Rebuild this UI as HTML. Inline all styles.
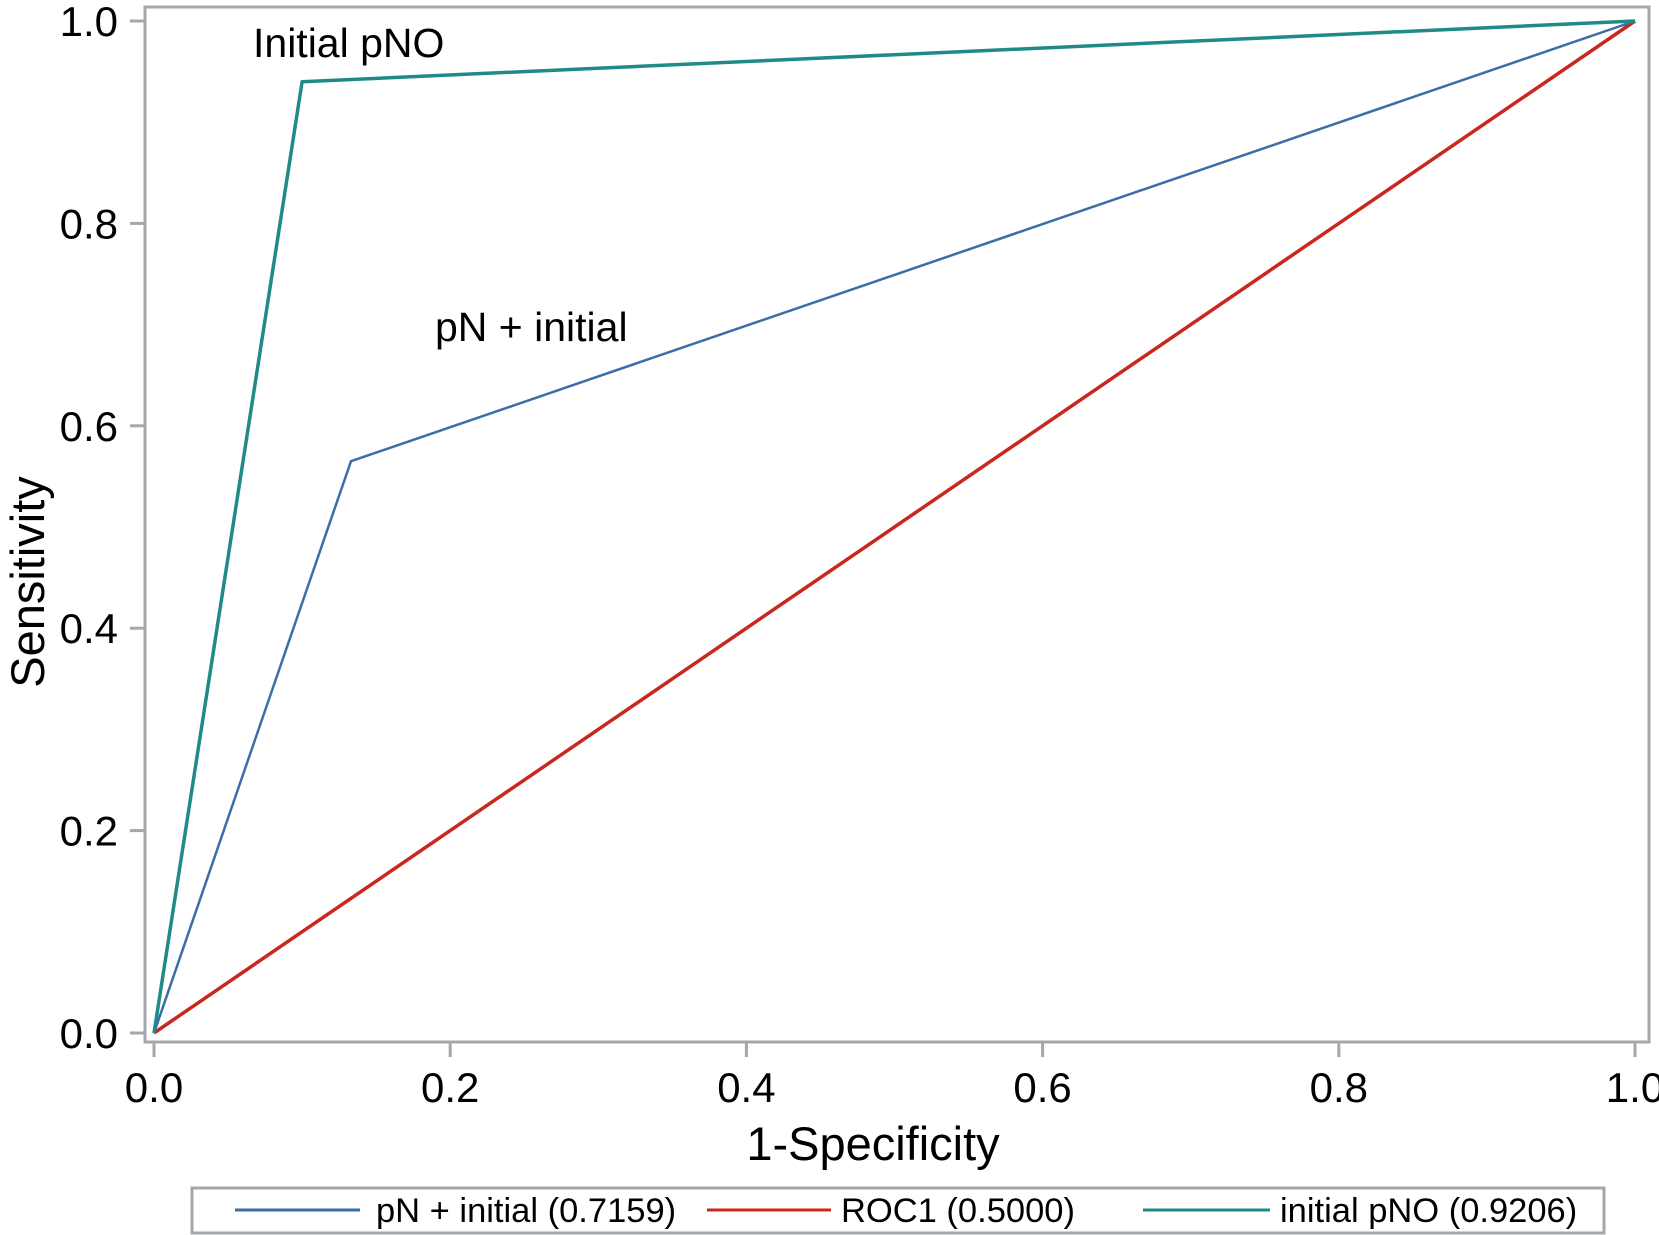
<!DOCTYPE html>
<html><head><meta charset="utf-8"><style>
body{margin:0;background:#fff;}
svg{display:block;font-family:"Liberation Sans",sans-serif;}
</style></head><body>
<svg id="chart" width="1659" height="1235" xmlns="http://www.w3.org/2000/svg">
<rect x="145" y="7" width="1504" height="1035" fill="#fff" stroke="#a3a8ac" stroke-width="3"/>
<g id="axes"></g>
<g id="series"></g>
<text x="253" y="57" font-size="41" fill="#000">Initial pNO</text>
<text x="435" y="341" font-size="41" fill="#000">pN + initial</text>
<text x="873" y="1160" font-size="47" text-anchor="middle">1-Specificity</text>
<text transform="translate(44,582) rotate(-90)" font-size="47" text-anchor="middle">Sensitivity</text>
<g>
<rect x="192" y="1188" width="1412" height="45" fill="#fff" stroke="#a3a8ac" stroke-width="3"/>
<line x1="235" y1="1210" x2="360" y2="1210" stroke="#3a6ea5" stroke-width="3"/>
<text x="376" y="1222" font-size="34.5">pN + initial (0.7159)</text>
<line x1="707" y1="1210" x2="831" y2="1210" stroke="#c8281e" stroke-width="3"/>
<text x="841" y="1222" font-size="34.5">ROC1 (0.5000)</text>
<line x1="1143" y1="1210" x2="1270" y2="1210" stroke="#1f8a88" stroke-width="3"/>
<text x="1280" y="1222" font-size="34.5">initial pNO (0.9206)</text>
</g>
</svg>
<script>
const tickValues=[0,0.2,0.4,0.6,0.8,1.0];
const tickLabels=["0.0","0.2","0.4","0.6","0.8","1.0"];
const pnInitialX=[0,0.133,1];
const pnInitialY=[0,0.565,1];
const roc1X=[0,1];
const roc1Y=[0,1];
const initialPnoX=[0,0.1,1];
const initialPnoY=[0,0.94,1];
const NS="http://www.w3.org/2000/svg";
const sx=v=>154+v*(1635-154);
const sy=v=>1033-v*(1033-21);
const axes=document.getElementById('axes');
function mk(tag,attrs,parent){const e=document.createElementNS(NS,tag);for(const k in attrs)e.setAttribute(k,attrs[k]);parent.appendChild(e);return e;}
tickValues.forEach((v,i)=>{
  const tx=mk('line',{x1:sx(v),x2:sx(v),y1:1042,y2:1057,stroke:'#a3a8ac','stroke-width':3},axes);
  
  
  const lx=mk('text',{x:sx(v),y:1102,'font-size':42,'text-anchor':'middle'},axes);
  lx.textContent=tickLabels[i];
  
  
  const ty=mk('line',{x1:130,x2:145,y1:sy(v),y2:sy(v),stroke:'#a3a8ac','stroke-width':3},axes);
  
  
  const ly=mk('text',{x:118,y:sy(v)+15,'font-size':42,'text-anchor':'end'},axes);
  ly.textContent=tickLabels[i];
  
  
});
const series=document.getElementById('series');
function line(xs,ys,color,w,name){
  const p=mk('polyline',{points:xs.map((x,i)=>sx(x)+','+sy(ys[i])).join(' '),fill:'none',stroke:color,'stroke-width':w,'stroke-linejoin':'round'},series);
  
  
}
line(roc1X,roc1Y,'#c8281e',3.5,'roc1-line');
line(pnInitialX,pnInitialY,'#3a6ea5',2.5,'pn-initial-line');
line(initialPnoX,initialPnoY,'#1f8a88',3.5,'initial-pno-line');
</script>
</body></html>
